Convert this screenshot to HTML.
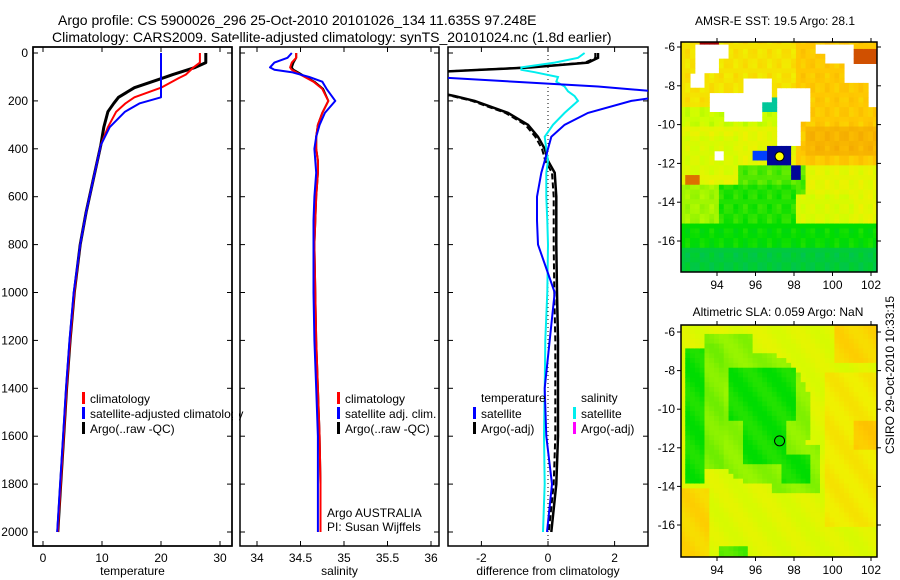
<!DOCTYPE html>
<html><head><meta charset="utf-8">
<style>
body{margin:0;background:#fff;}
svg{display:block;font-family:"Liberation Sans",sans-serif;}
</style></head>
<body>
<svg id="c" width="900" height="580" xmlns="http://www.w3.org/2000/svg">
<rect width="900" height="580" fill="#fff"/>
<text x="58" y="25" font-size="14">Argo profile: CS 5900026_296 25-Oct-2010 20101026_134 11.635S 97.248E</text>
<text x="52" y="42" font-size="14">Climatology: CARS2009. Satellite-adjusted climatology: synTS_20101024.nc (1.8d earlier)</text>
<text x="775" y="25" font-size="12" text-anchor="middle">AMSR-E SST: 19.5 Argo: 28.1</text>
<text x="778" y="316" font-size="12" text-anchor="middle">Altimetric SLA: 0.059 Argo: NaN</text>
<text transform="translate(894,454) rotate(-90)" font-size="12">CSIRO 29-Oct-2010 10:33:15</text>
<g id="g"></g>
</svg>
<script>
// ---- data ----
const tDepths=[0,40,60,90,105,145,185,210,245,310,385,520,665,800,1000,1200,1400,1600,1800,2000];
const argoTemp=[27.6,27.6,25.8,22,20.3,15.5,12.8,12,11,10.3,9.8,8.6,7.3,6.3,5.3,4.6,4,3.5,3,2.5];
const climTemp=[26.6,26.6,25.5,24.2,23,20,15.5,14,12.4,11,9.8,8.6,7.3,6.3,5.3,4.6,4,3.5,3,2.5];
const satTemp=[20,20,20,20,20,20,20,16.4,13.9,11.3,9.8,8.6,7.3,6.3,5.2,4.5,3.9,3.4,2.9,2.4];
const depths=[0,20,40,60,70,80,100,120,150,200,250,300,350,400,450,500,600,700,800,1000,1200,1400,1600,1800,2000];
const climSal=[34.45,34.45,34.4,34.38,34.4,34.45,34.55,34.65,34.75,34.82,34.75,34.7,34.68,34.68,34.7,34.7,34.68,34.67,34.66,34.67,34.68,34.7,34.72,34.73,34.73];
const satSal=[34.4,34.35,34.2,34.15,34.2,34.4,34.6,34.75,34.8,34.9,34.78,34.72,34.68,34.66,34.67,34.68,34.66,34.65,34.65,34.65,34.66,34.68,34.7,34.7,34.7];
const argoSal=[34.45,34.45,34.42,34.4,34.42,34.47,34.56,34.66,34.76,34.82,34.75,34.7,34.68,34.68,34.7,34.7,34.68,34.67,34.66,34.67,34.68,34.7,34.72,34.73,34.73];
const diffDepths=[0,20,40,60,70,80,100,120,140,160,180,200,250,300,350,400,450,500,600,700,800,1000,1200,1400,1600,1800,2000];
const argoTempDiff=[1.5,1.5,1.2,-0.5,-2,-3.5,-3.5,-3.5,-3.5,-3.5,-2.8,-2.2,-1.2,-0.6,-0.3,-0.1,0,0.2,0.25,0.25,0.25,0.27,0.3,0.3,0.3,0.25,0.1];
const satTempDiff=[-3.5,-3.5,-3.5,-3.5,-3.5,-3.5,-3.5,-1,1.5,3.2,3.5,2.5,1.2,0.5,0.1,0,-0.1,-0.2,-0.33,-0.33,-0.3,0.2,0.05,-0.1,-0.05,0.12,-0.03];
const satSalDiff=[1.1,0.9,0.2,-0.8,-0.8,-0.4,0.3,0.25,0.5,0.6,0.8,0.9,0.5,0.15,-0.1,-0.05,0,-0.05,-0.05,-0.02,0,-0.02,-0.08,-0.1,-0.12,-0.1,-0.15];
const depthTicks=[0,200,400,600,800,1000,1200,1400,1600,1800,2000];
const tempTicks=[0,10,20,30];
const salTicks=[34,34.5,35,35.5,36];
const diffTicks=[-2,0,2];
const lonTicks=[94,96,98,100,102];
const latTicks=[-6,-8,-10,-12,-14,-16];

const NS="http://www.w3.org/2000/svg";
const G=document.getElementById('g');
function mk(t,a,p){const e=document.createElementNS(NS,t);for(const k in a)e.setAttribute(k,a[k]);(p||G).appendChild(e);return e;}
const Y0=53,YB=546,YT=47;
const yD=d=>Y0+d*0.2395;

function panel(name,x0,x1,xs,ticks,label,fmt){
  const b=mk('rect',{x:x0,y:YT,width:x1-x0,height:YB-YT,fill:'none',stroke:'#000','stroke-width':1.5});
  
  
  ticks.forEach(t=>{const x=xs(t);
    mk('line',{x1:x,x2:x,y1:YB,y2:YB-5,stroke:'#000'});
    mk('line',{x1:x,x2:x,y1:YT,y2:YT+5,stroke:'#000'});
    const tx=mk('text',{x:x,y:YB+16,'font-size':12,'text-anchor':'middle'});tx.textContent=fmt(t);
    
    
  });
  depthTicks.forEach(d=>{mk('line',{x1:x0,x2:x0+5,y1:yD(d),y2:yD(d),stroke:'#000'});mk('line',{x1:x1,x2:x1-5,y1:yD(d),y2:yD(d),stroke:'#000'});});
  const l=mk('text',{x:(x0+x1)/2,y:575,'font-size':12,'text-anchor':'middle'});l.textContent=label;
  
  
}
function line(xs,vals,ds,color,w,name,x0,x1){
  let p='';ds.forEach((d,i)=>{let x=Math.max(x0-2,Math.min(x1+2,xs(vals[i])));p+=(i?'L':'M')+x.toFixed(1)+','+yD(d).toFixed(1);});
  const e=mk('path',{d:p,fill:'none',stroke:color,'stroke-width':w,'stroke-linejoin':'round'});
  
  
}
function leg(x,y,color,txt,name){
  mk('rect',{x:x,y:y-6,width:3,height:12,fill:color});
  const t=mk('text',{x:x+8,y:y+5,'font-size':12});t.textContent=txt;
  
  
}
depthTicks.forEach(d=>{const t=mk('text',{x:28,y:yD(d)+4,'font-size':12,'text-anchor':'end'});t.textContent=d;
  
  });

// temperature panel
const xT=v=>43+v*5.9;
panel('temperature',33,232,xT,tempTicks,'temperature',t=>t);
line(xT,argoTemp,tDepths,'#000',3,'argo-temperature-line',33,232);
line(xT,climTemp,tDepths,'#f00',2,'climatology-temperature-line',33,232);
line(xT,satTemp,tDepths,'#00f',2,'satellite-temperature-line',33,232);
leg(82,398,'#f00','climatology','legend-climatology');
leg(82,413,'#00f','satellite-adjusted climatology','legend-satellite');
leg(82,428,'#000','Argo(..raw -QC)','legend-argo');
mk('rect',{x:233,y:40,width:6,height:400,fill:'#fff'});
mk('rect',{x:33,y:YT,width:199,height:YB-YT,fill:'none',stroke:'#000','stroke-width':1.5});

// salinity
const xS=v=>257+(v-34)*87;
panel('salinity',240,439,xS,salTicks,'salinity',t=>t);
line(xS,argoSal,depths,'#000',2,'argo-salinity-line',240,439);
line(xS,climSal,depths,'#f00',2,'climatology-salinity-line',240,439);
line(xS,satSal,depths,'#00f',2,'satellite-salinity-line',240,439);
leg(337,398,'#f00','climatology','legend-sal-climatology');
leg(337,413,'#00f','satellite adj. clim.','legend-sal-satellite');
leg(337,428,'#000','Argo(..raw -QC)','legend-sal-argo');
let t1=mk('text',{x:327,y:517,'font-size':12});t1.textContent='Argo AUSTRALIA';

let t2=mk('text',{x:327,y:531,'font-size':12});t2.textContent='PI: Susan Wijffels';


// difference
const xDf=v=>548+v*33.3;
panel('difference',448,648,xDf,diffTicks,'difference from climatology',t=>t);
mk('line',{x1:548,x2:548,y1:YT,y2:YB,stroke:'#000','stroke-dasharray':'1,3'});
mk('clipPath',{id:'cD'}).appendChild(document.createElementNS(NS,'rect'));
const cd=document.querySelector('#cD rect');cd.setAttribute('x',448);cd.setAttribute('y',YT);cd.setAttribute('width',200);cd.setAttribute('height',YB-YT);
const gd=mk('g',{'clip-path':'url(#cD)'});
function dline(vals,color,w,name,dash){let p='';diffDepths.forEach((d,i)=>{p+=(i?'L':'M')+xDf(vals[i]).toFixed(1)+','+yD(d).toFixed(1);});
 const e=mk('path',{d:p,fill:'none',stroke:color,'stroke-width':w},gd);if(dash)e.setAttribute('stroke-dasharray',dash);
 }
dline(argoTempDiff,'#000',2.5,'argo-temperature-diff-line');
dline(argoTempDiff.map(v=>v-0.08),'#000',2,'argo-temperature-diff-adj-line','6,3');
dline(satSalDiff,'#0ee',2,'satellite-salinity-diff-line');
dline(satTempDiff,'#00f',2,'satellite-temperature-diff-line');
let h1=mk('text',{x:481,y:402,'font-size':12});h1.textContent='temperature';
leg(473,413,'#00f','satellite','legend-diff-temp-satellite');
leg(473,428,'#000','Argo(-adj)','legend-diff-temp-argo');
let h2=mk('text',{x:581,y:402,'font-size':12});h2.textContent='salinity';
leg(573,413,'#0ee','satellite','legend-diff-sal-satellite');
leg(573,428,'#f0f','Argo(-adj)','legend-diff-sal-argo');

// maps
const stops=[[0,[0,0,140]],[0.2,[0,64,255]],[0.35,[0,208,208]],[0.45,[0,190,100]],[0.55,[0,221,0]],[0.63,[128,240,0]],[0.7,[204,255,0]],[0.76,[240,240,0]],[0.82,[255,200,0]],[0.9,[240,160,0]],[0.95,[208,80,0]],[1,[160,0,0]]];
function cmap(v){v=Math.max(0,Math.min(1,v));for(let i=1;i<stops.length;i++){if(v<=stops[i][0]){const a=stops[i-1],b=stops[i];const f=(v-a[0])/(b[0]-a[0]);return 'rgb('+a[1].map((c,j)=>Math.round(c+(b[1][j]-c)*f)).join(',')+')';}}return 'rgb(160,0,0)';}
function mapAxes(name,yTop,yBot,latY){
  const b=mk('rect',{x:681,y:yTop,width:196,height:yBot-yTop,fill:'none',stroke:'#000','stroke-width':1.5});
  
  lonTicks.forEach(l=>{const x=717+(l-94)*19.25;mk('line',{x1:x,x2:x,y1:yBot,y2:yBot+4,stroke:'#000'});mk('line',{x1:x,x2:x,y1:yTop,y2:yTop-4,stroke:'#000'});
    const t=mk('text',{x:x,y:yBot+17,'font-size':12,'text-anchor':'middle'});t.textContent=l;});
  latTicks.forEach(l=>{const y=latY(l);mk('line',{x1:681,x2:677,y1:y,y2:y,stroke:'#000'});mk('line',{x1:877,x2:881,y1:y,y2:y,stroke:'#000'});
    const t=mk('text',{x:675,y:y+4,'font-size':12,'text-anchor':'end'});t.textContent=l;});
}
function field(yTop,yBot,latY,fn,name){
  const g=mk('g',{});
  const step=0.25;
  for(let lon=92.1;lon<102.45;lon+=step){for(let lat=-5.6;lat>-17.7;lat-=step){
    const v=fn(lon,lat);if(v===null)continue;
    const x=717+(lon-94)*19.25,y=latY(lat);
    const x0=Math.max(681,x),y0=Math.max(yTop,y),x1=Math.min(877,x+step*19.25+0.5),y1=Math.min(yBot,y+step*19.4+0.5);
    if(x1<=x0||y1<=y0)continue;
    mk('rect',{x:x0,y:y0,width:x1-x0,height:y1-y0,fill:cmap(v)},g);}}
}
function inR(lon,lat,a,b,c,d){return lon>=a&&lon<=b&&lat<=c&&lat>=d;}
const pxLon=px=>94+(px-717)/19.25, pxLat1=py=>-6-(py-47)/19.4;
const whites=[[692,728,43,55],[692,718,55,73],[705,742,88,108],[723,760,98,117],[740,770,77,98],[775,808,84,120],[775,800,120,142],[813,842,42,50],[820,853,43,63],[842,873,63,80],[866,877,80,103],[710,720,148,160],[690,700,73,85]];
function sst(lon,lat){
  for(const w of whites){if(lon>=pxLon(w[0])&&lon<pxLon(w[1])&&lat<=pxLat1(w[2])&&lat>pxLat1(w[3]))return null;}
  if(inR(lon,lat,93,94,-5.6,-6.1))return 1;
  if(inR(lon,lat,101,102.5,-6,-7.1))return 0.95;
  if(inR(lon,lat,96.6,97.6,-11.0,-11.9))return 0.02;
  if(inR(lon,lat,97.7,98.3,-11.9,-12.6))return 0.02;
  if(inR(lon,lat,95.8,96.6,-11.2,-11.6))return 0.2;
  if(inR(lon,lat,96.3,96.9,-8.5,-9.2))return 0.4;
  if(inR(lon,lat,92.2,93,-12.4,-12.9))return 0.93;
  let v=0.74;
  if(lat>-9)v=0.78; if(lat>-10&&lat<=-9&&lon<97)v=0.7;
  if(lon>98&&lat>-12)v=0.82; if(lon>98.5&&lat>-11.5&&lat<-10)v=0.86;
  if(lat<-10.5&&lat>-12.5&&lon<95)v=0.72;
  if(lat<-12&&lon>95&&lon<98.5)v=0.6;
  if(lat<-13&&lon<98)v=0.57;
  if(lat<-13.5&&lon>=98&&lon<101)v=0.72;
  if(lat<-15)v=0.55;
  if(lat<-16.2)v=0.49;
  if(lat<-13&&lat>-15&&lon<94)v=0.66;
  return v+((Math.sin(lon*7.3)*Math.cos(lat*5.1))*0.02);
}
const latY1=l=>47+(-6-l)*19.4;
field(42,272,latY1,sst,'sst-map-cells');
mapAxes('sst-map',42,272,latY1);
mk('circle',{cx:717+(97.25-94)*19.25,cy:latY1(-11.64),r:4.5,fill:'#ff0',stroke:'#000'});

const latY2=l=>332+(-6-l)*19.3;
function sla(lon,lat){
  let v=0.73;
  const e=(a,b,ra,rb)=>((lon-a)/ra)**2+((lat-b)/rb)**2;
  if(lon>100&&lat>-7.5)v=0.8; if(lon>101&&lat<-10.5&&lat>-12)v=0.82;
  if(lon>99.5&&lat<-8&&lat>-16)v=Math.max(v,0.77);
  if(lat<-14&&lon<93.5)v=0.8;
  if(e(96,-10.3,2.8,3.4)<1)v=0.64;
  if(inR(lon,lat,93.2,95.8,-6,-8.5))v=0.64;
  if(inR(lon,lat,94.5,97.9,-7.8,-10.5))v=0.56;
  if(inR(lon,lat,95.2,97.5,-10.5,-12.8))v=0.56;
  if(inR(lon,lat,97.3,98.8,-12.2,-13.8))v=0.56;
  if(inR(lon,lat,96.8,99.3,-11.8,-14.3)&&v>0.6)v=0.64;
  if(inR(lon,lat,92.2,93.2,-6.8,-13.6))v=0.56;
  if(inR(lon,lat,93.2,94.3,-6.5,-13))v=Math.min(v,0.63);
  if(lat<-17&&lon>94&&lon<95.5)v=0.6;
  return v+Math.sin(lon*3.1+lat*2.3)*0.012;
}
field(325,557,latY2,sla,'sla-map-cells');
mapAxes('sla-map',325,557,latY2);
mk('circle',{cx:717+(97.25-94)*19.25,cy:latY2(-11.64),r:5,fill:'none',stroke:'#000'});
</script>
</body></html>
